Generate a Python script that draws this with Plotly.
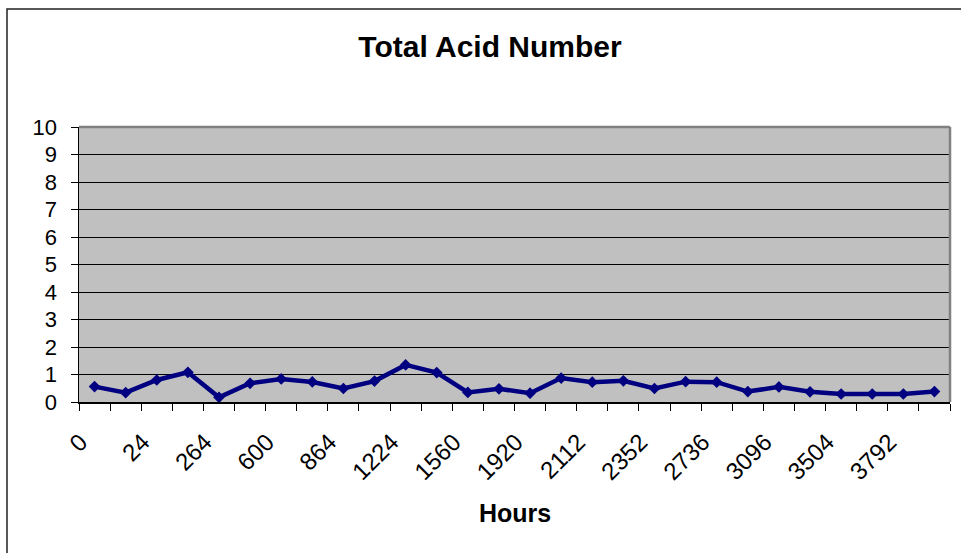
import plotly.graph_objects as go

hours = [0, 8, 24, 96, 264, 432, 600, 720, 864, 1056, 1224, 1392, 1560, 1728,
         1920, 2016, 2112, 2232, 2352, 2544, 2736, 2904, 3096, 3312, 3504, 3648, 3792, 3960]
tan = [0.56, 0.34, 0.80, 1.08, 0.17, 0.68, 0.84, 0.73, 0.49, 0.76, 1.35, 1.07, 0.35, 0.48,
       0.32, 0.87, 0.72, 0.77, 0.49, 0.74, 0.72, 0.38, 0.55, 0.37, 0.29, 0.29, 0.29, 0.38]
y_ticks = list(range(0, 11))

idx = list(range(len(hours)))
label_idx = idx[::2]
label_text = [str(hours[i]) for i in label_idx]
boundaries = [i - 0.5 for i in range(len(hours) + 1)]

FONT = "Arial, Liberation Sans, sans-serif"

fig = go.Figure()
fig.add_trace(go.Scatter(
    x=idx, y=tan, mode="lines+markers",
    line=dict(color="#000080", width=4.5),
    marker=dict(symbol="diamond", size=9, color="#000080"),
    hoverinfo="skip", showlegend=False,
))

W, H = 961, 553
L, R, T, B = 79, 11, 127, 151
pw, ph = W - L - R, H - T - B

def px_x(x):
    return (x - L) / pw

def px_y(y):
    return (H - B - y) / ph

fig.update_layout(
    width=W, height=H,
    margin=dict(l=L, r=R, t=T, b=B),
    paper_bgcolor="white",
    plot_bgcolor="#C0C0C0",
    font=dict(family=FONT, color="black"),
    title=dict(text="Total Acid Number", xref="container", x=490 / W,
               yref="container", y=1 - 46 / H, xanchor="center", yanchor="middle",
               font=dict(size=30, weight="bold", family=FONT, color="black")),
    xaxis=dict(
        range=[-0.5, len(hours) - 0.5],
        tickmode="array", tickvals=label_idx, ticktext=label_text,
        tickangle=-45, ticks="", ticklen=0,
        tickfont=dict(size=24, family=FONT, color="black"),
        ticklabelstandoff=15, ticklabelshift=-14,
        showgrid=False, zeroline=False,
        showline=True, linecolor="black", linewidth=1.5,
        minor=dict(tickmode="array", tickvals=boundaries, ticks="outside",
                   ticklen=7, tickwidth=1, tickcolor="black", showgrid=False),
        fixedrange=True,
    ),
    yaxis=dict(
        range=[0, 10], tickmode="array", tickvals=y_ticks,
        ticks="outside", ticklen=7, tickwidth=1, tickcolor="black",
        tickfont=dict(size=22, family=FONT, color="black"),
        ticklabelstandoff=9,
        showgrid=True, gridcolor="black", gridwidth=1,
        zeroline=False,
        showline=True, linecolor="black", linewidth=1.5,
        fixedrange=True,
    ),
    shapes=[
        dict(type="line", xref="paper", yref="paper", x0=0, x1=1, y0=1, y1=1,
             line=dict(color="#808080", width=2.5), layer="above"),
        dict(type="line", xref="paper", yref="paper", x0=1, x1=1, y0=0, y1=1,
             line=dict(color="#808080", width=2.5), layer="above"),
        dict(type="rect", xref="paper", yref="paper",
             x0=px_x(7), x1=px_x(1000), y0=px_y(600), y1=px_y(9),
             line=dict(color="#222222", width=1.5), fillcolor="rgba(0,0,0,0)",
             layer="below"),
    ],
    annotations=[
        dict(text="<b>Hours</b>", xref="paper", yref="paper", x=0.5,
             y=px_y(513), xanchor="center", yanchor="middle", showarrow=False,
             font=dict(size=25, family=FONT, color="black")),
    ],
)

fig.write_html("out.html", config={"displayModeBar": False, "staticPlot": True},
               post_script="document.body.style.margin='0';")
